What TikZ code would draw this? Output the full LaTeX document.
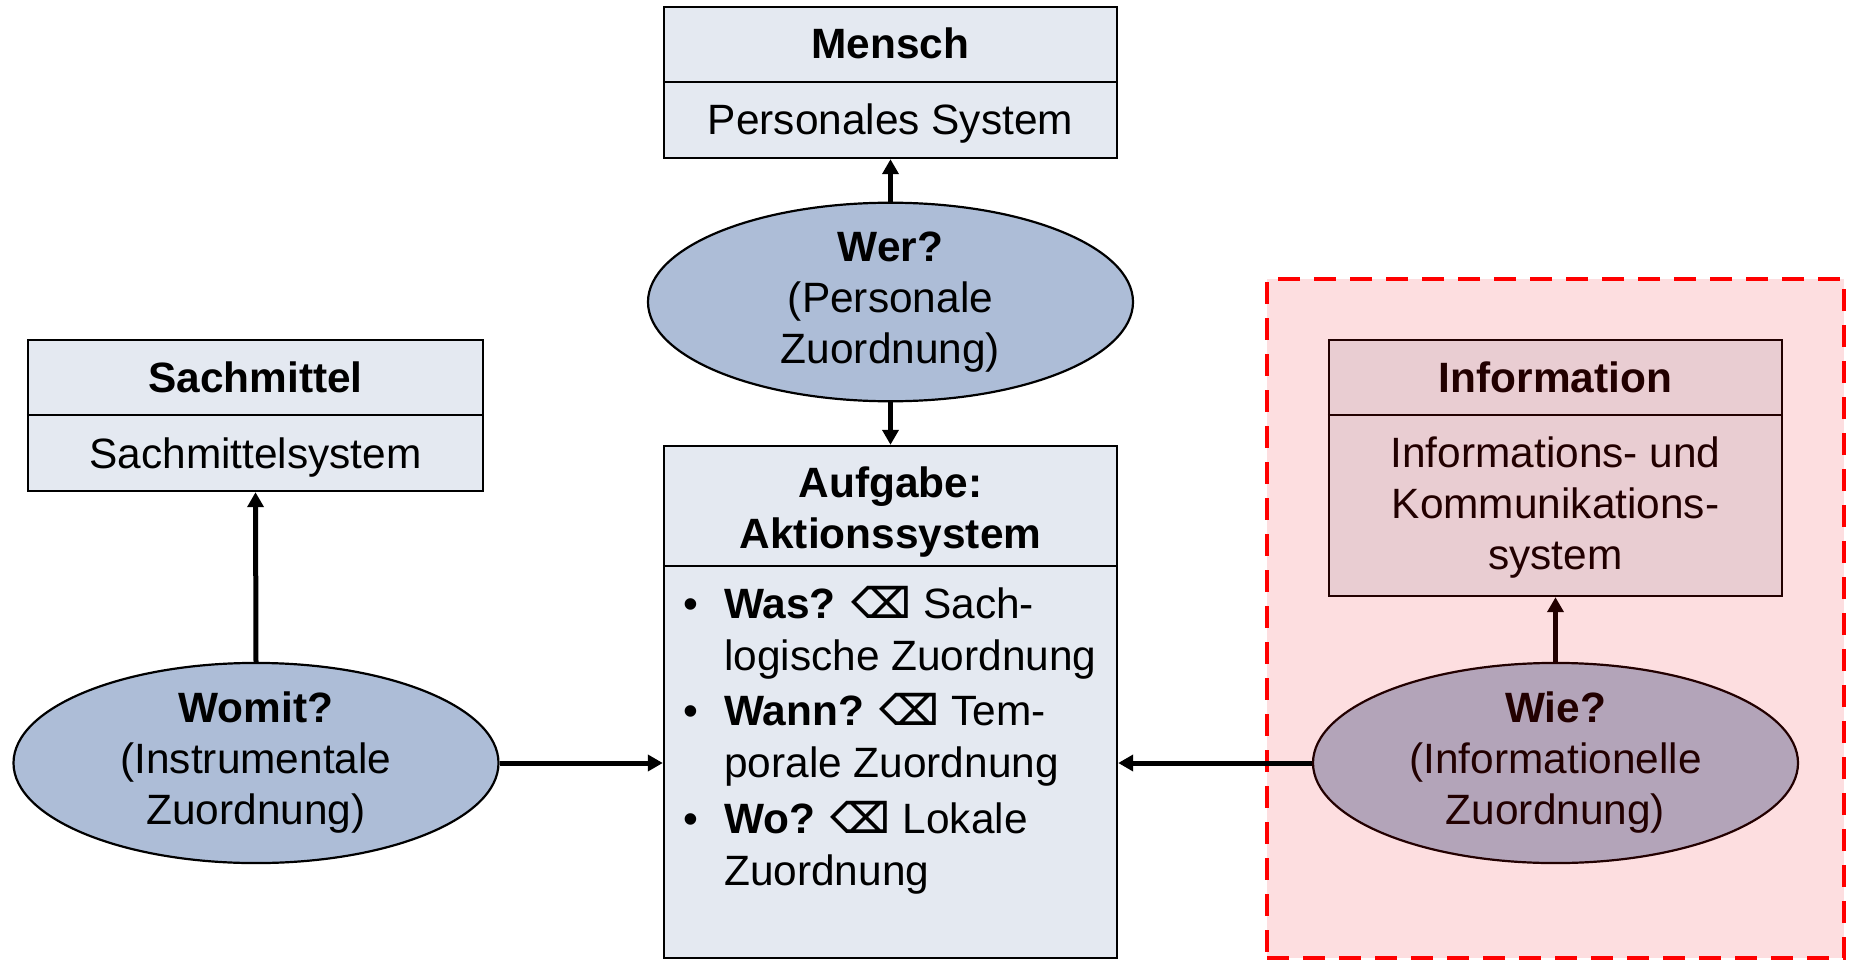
\documentclass[tikz,border=0pt]{standalone}
\usepackage{fontspec}
\setmainfont{Liberation Sans}
\newfontfamily\symfont{DejaVu Sans}
\usetikzlibrary{shapes.geometric,arrows.meta}

\definecolor{boxfill}{HTML}{E4E9F1}
\definecolor{ellfill}{HTML}{ADBDD7}
\definecolor{zonefill}{HTML}{FDDEE0}
\definecolor{zoneline}{HTML}{FF0000}
\definecolor{infofill}{HTML}{E9CDD2}
\definecolor{wiefill}{HTML}{B3A4B9}
\definecolor{ink}{HTML}{220000}

\newcommand\bigfont{\fontsize{42.4}{51}\selectfont}
\newcommand\erase{{\symfont\bfseries ⌫}}

\begin{document}
\begin{tikzpicture}[x=1pt,y=-1pt,
  every node/.style={font=\bigfont},
  box/.style={draw=black,line width=2.4pt,fill=boxfill,rectangle,inner sep=0pt},
  divider/.style={line width=2.4pt},
  qell/.style={ellipse,draw=black,line width=2.2pt,fill=ellfill,inner sep=0pt,
    align=center,minimum width=485,minimum height=197},
  head/.style={anchor=base,font=\bigfont\bfseries},
  body/.style={anchor=base,font=\bigfont},
  multi/.style={anchor=center,font=\bigfont,align=center},
  item/.style={anchor=base west,font=\bigfont,inner sep=0pt},
  dot/.style={anchor=base,font=\bigfont,inner sep=0pt},
  arr/.style={line width=5pt,-{Triangle[length=15pt,width=16pt]}},
  zone/.style={draw=zoneline,fill=zonefill,line width=4.5pt,dash pattern=on 22pt off 14pt,
    rectangle,inner sep=0pt,minimum width=577,minimum height=679}]

\useasboundingbox (0,0) rectangle (1852,960);
\fill[white] (0,0) rectangle (1852,960);

% highlighted information area
\node[zone] (zone) at (1555.5,618.5) {};

% Mensch
\node[box,minimum width=453,minimum height=151] (mensch) at (890.5,82.5) {};
\draw[divider] ([yshift=-76pt]mensch.north west) -- ([yshift=-76pt]mensch.north east);
\node[head] (menschH) at (890.5,59) {Mensch};
\node[body] (menschB) at (890.5,135) {Personales System};

% Sachmittel
\node[box,minimum width=455,minimum height=151] (sach) at (255.5,415.5) {};
\draw[divider] ([yshift=-76pt]sach.north west) -- ([yshift=-76pt]sach.north east);
\node[head] (sachH) at (255.5,392) {Sachmittel};
\node[body] (sachB) at (255.5,468) {Sachmittelsystem};

% Information
\node[box,draw=ink,fill=infofill,minimum width=453,minimum height=256] (info) at (1555.5,468) {};
\draw[divider,ink] ([yshift=-76pt]info.north west) -- ([yshift=-76pt]info.north east);
\node[head,text=ink] (infoH) at (1555.5,392) {Information};
\node[multi,text=ink] (infoB) at (1555.5,508) {Informations- und\\Kommunikations-\\system};

% Aufgabe
\node[box,minimum width=453,minimum height=512] (aufgabe) at (890.5,702) {};
\draw[divider] ([yshift=-121pt]aufgabe.north west) -- ([yshift=-121pt]aufgabe.north east);
\node[multi,font=\bigfont\bfseries] (aufgabeH) at (890.5,512) {Aufgabe:\\Aktionssystem};

\node[dot] (d1) at (691,618) {\textbullet};
\node[item] (l1) at (724,618) {\textbf{Was?} \erase{} Sach-};
\node[item] (l2) at (724,670) {logische Zuordnung};
\node[dot] (d2) at (691,725) {\textbullet};
\node[item] (l3) at (724,725) {\textbf{Wann?} \erase{} Tem-};
\node[item] (l4) at (724,777) {porale Zuordnung};
\node[dot] (d3) at (691,833) {\textbullet};
\node[item] (l5) at (724,833) {\textbf{Wo?} \erase{} Lokale};
\node[item] (l6) at (724,885) {Zuordnung};

% question ellipses
\node[qell] (wer) at (890.5,302) {\textbf{Wer?}\\(Personale\\Zuordnung)};
\node[qell] (womit) at (256,763) {\textbf{Womit?}\\(Instrumentale\\Zuordnung)};
\node[qell,draw=ink,fill=wiefill,text=ink] (wie) at (1555.5,763) {\textbf{Wie?}\\(Informationelle\\Zuordnung)};

% connectors
\draw[arr] (wer.north) -- (mensch.south);
\draw[arr] (wer.south) -- (aufgabe.north);
\draw[arr] (womit.north) -- (sach.south);
\draw[arr] (womit.east) -- (aufgabe.west |- womit.east);
\draw[arr,ink] (wie.north) -- (info.south);
\draw[arr] (wie.west) -- (aufgabe.east |- wie.west);
\end{tikzpicture}
\end{document}
